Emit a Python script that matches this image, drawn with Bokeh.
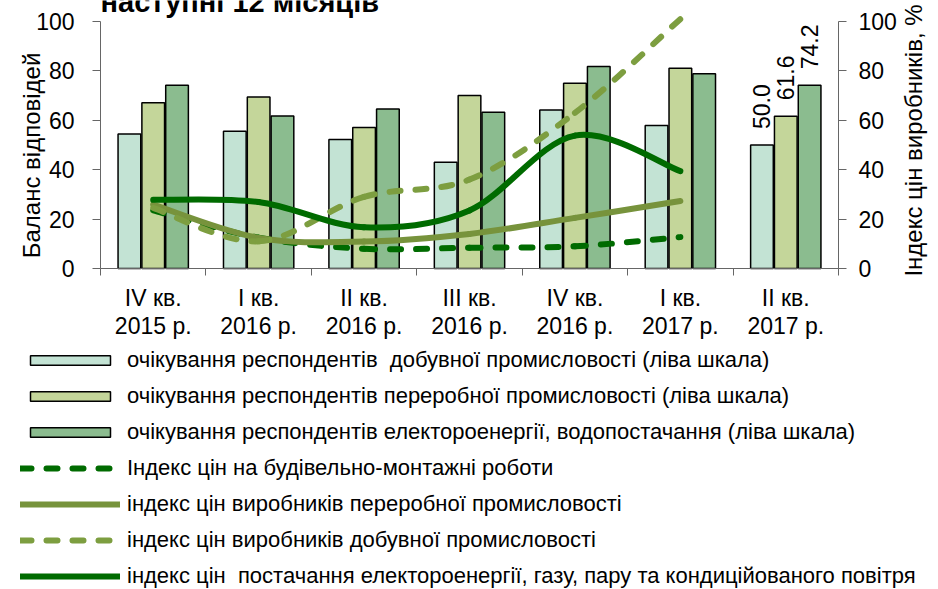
import math
from bokeh.plotting import figure
from bokeh.models import Range1d, LinearAxis, FixedTicker, Legend, LegendItem
from bokeh.embed import file_html
from bokeh.resources import INLINE
from bokeh.core.properties import value

# ---- data ----
categories = ["IV кв.\n2015 р.", "I кв.\n2016 р.", "II кв.\n2016 р.", "III кв.\n2016 р.",
              "IV кв.\n2016 р.", "I кв.\n2017 р.", "II кв.\n2017 р."]
cat_x = [1, 2, 3, 4, 5, 6, 7]

mining_exp = [54.5, 55.6, 52.2, 43.0, 64.2, 57.9, 50.0]
manuf_exp = [67.1, 69.4, 57.1, 70.0, 75.0, 81.1, 61.6]
energy_exp = [74.2, 61.7, 64.6, 63.3, 81.8, 78.8, 74.2]

line_x = [1, 2, 3, 4, 5, 6]
construction_idx = [23.5, 12.5, 8.0, 8.4, 9.0, 12.7]
manuf_idx = [25.9, 12.4, 10.9, 14.0, 20.5, 27.3]
mining_idx = [24.5, 11.0, 29.0, 36.0, 63.0, 101.0]
energy_idx = [27.8, 26.9, 16.7, 23.5, 53.8, 39.4]

left_ticks = [0, 20, 40, 60, 80, 100]
right_ticks = [0, 20, 40, 60, 80, 100]

labels = [
    "очікування респондентів  добувної промисловості (ліва шкала)",
    "очікування респондентів переробної промисловості (ліва шкала)",
    "очікування респондентів електороенергії, водопостачання (ліва шкала)",
    "Індекс цін на будівельно-монтажні роботи",
    "індекс цін виробників переробної промисловості",
    "індекс цін виробників добувної промисловості",
    "індекс цін  постачання електороенергії, газу, пару та кондиційованого повітря",
]
title_text = "наступні 12 місяців"
left_label = "Баланс відповідей"
right_label = "Індекс цін виробників, %"

FONT = "Liberation Sans"
C_BAR1, C_BAR2, C_BAR3 = "#C3E3D4", "#C4D69A", "#8BBC8F"
C_DARK, C_OLIVE, C_OLIVE2 = "#006B00", "#77933C", "#7D9E40"
AX = "#666666"

bar_styles = [dict(fill_color=C_BAR1), dict(fill_color=C_BAR2), dict(fill_color=C_BAR3)]
line_styles = [
    dict(line_color=C_DARK, line_width=6, line_dash="11 15", line_cap="round"),
    dict(line_color=C_OLIVE, line_width=6, line_cap="round"),
    dict(line_color=C_OLIVE2, line_width=6, line_dash="11 15", line_cap="round"),
    dict(line_color=C_DARK, line_width=6, line_cap="round"),
]

# ---- page geometry (pixels) ----
W, H = 938, 589
PL, PR, PT, PB = 100, 838, 21, 268          # plot-area box inside the page
kx = (PR - PL) / 7.0                         # px per category
ky = (PB - PT) / 100.0                       # px per unit
x_start = 0.5 - PL / kx
x_end = 7.5 + (W - PR) / kx
y_end = 100 + PT / ky
y_start = -(H - PB) / ky

def px_x(px):
    return x_start + px / kx

def px_y(py):
    return y_end - py / ky

p = figure(width=W, height=H, output_backend="svg", toolbar_location=None,
           x_range=Range1d(x_start, x_end), y_range=Range1d(y_start, y_end),
           x_axis_type=None, y_axis_type=None,
           min_border_left=0, min_border_right=0, min_border_top=0, min_border_bottom=0)
p.extra_y_ranges = {"right": Range1d(y_start, y_end)}
p.outline_line_color = None
p.grid.visible = False
p.background_fill_color = "white"
p.border_fill_color = "white"

# bars
off, bw = 0.226, 0.215
bar_renderers = []
for xs, vals, st in zip([[c - off for c in cat_x], cat_x, [c + off for c in cat_x]],
                        [mining_exp, manuf_exp, energy_exp], bar_styles):
    bar_renderers.append(p.vbar(x=xs, top=vals, width=bw, line_color="black",
                                line_width=1.5, **st))

# smooth lines (Excel-like smoothing with cubic Bezier segments)
def smooth(xs, ys):
    n = len(xs)
    d = dict(x0=[], y0=[], x1=[], y1=[], cx0=[], cy0=[], cx1=[], cy1=[])
    for i in range(n - 1):
        ip = max(i - 1, 0)
        inn = min(i + 2, n - 1)
        d["x0"].append(xs[i]); d["y0"].append(ys[i])
        d["x1"].append(xs[i + 1]); d["y1"].append(ys[i + 1])
        d["cx0"].append(xs[i] + (xs[i + 1] - xs[ip]) / 6)
        d["cy0"].append(ys[i] + (ys[i + 1] - ys[ip]) / 6)
        d["cx1"].append(xs[i + 1] - (xs[inn] - xs[i]) / 6)
        d["cy1"].append(ys[i + 1] - (ys[inn] - ys[i]) / 6)
    return d

line_renderers = []
for ys, st in zip([construction_idx, manuf_idx, mining_idx, energy_idx], line_styles):
    line_renderers.append(p.bezier(**smooth(line_x, ys), y_range_name="right", **st))

# data labels of the last group
last_vals = [mining_exp[-1], manuf_exp[-1], energy_exp[-1]]
p.text(x=[cat_x[-1] - off, cat_x[-1], cat_x[-1] + off], y=last_vals,
       text=[f"{v:.1f}" for v in last_vals], angle=math.pi / 2,
       text_align="left", text_baseline="middle", y_offset=-16,
       text_font=value(FONT), text_font_size="23px", text_color="black")

# axes drawn at fixed positions
xa = LinearAxis(fixed_location=0, bounds=(0.5, 7.5),
                ticker=FixedTicker(ticks=cat_x,
                                   minor_ticks=[c - 0.5 for c in cat_x] + [cat_x[-1] + 0.5]))
xa.major_label_overrides = {c: lab for c, lab in zip(cat_x, categories)}
xa.major_tick_out = 0
xa.major_tick_in = 0
xa.minor_tick_out = 7
xa.minor_tick_in = 0
xa.major_label_standoff = 9
xa.major_label_text_font = FONT
xa.major_label_text_font_size = "23px"
xa.major_label_text_color = "black"
xa.major_label_text_line_height = 1.1
xa.axis_line_color = AX
xa.minor_tick_line_color = AX
p.add_layout(xa, "below")

ya = LinearAxis(fixed_location=0.5, bounds=(0, 100), ticker=FixedTicker(ticks=left_ticks))
ya.major_tick_out = 8
ya.major_tick_in = 0
ya.minor_tick_out = 0
ya.minor_tick_in = 0
ya.major_label_standoff = 18
ya.major_label_text_font = FONT
ya.major_label_text_font_size = "23px"
ya.major_label_text_color = "black"
ya.axis_line_color = AX
ya.major_tick_line_color = AX
p.add_layout(ya, "left")

ra = LinearAxis(fixed_location=7.5, bounds=(0, 100), y_range_name="right",
                ticker=FixedTicker(ticks=right_ticks))
ra.major_tick_out = 8
ra.major_tick_in = 0
ra.minor_tick_out = 0
ra.minor_tick_in = 0
ra.major_label_standoff = 12
ra.major_label_text_font = FONT
ra.major_label_text_font_size = "23px"
ra.major_label_text_color = "black"
ra.axis_line_color = AX
ra.major_tick_line_color = AX
p.add_layout(ra, "right")

# axis titles (both read bottom-to-top, as in the reference)
p.text(x=[px_x(31), px_x(913)], y=[px_y(155), px_y(140)], text=[left_label, right_label],
       angle=math.pi / 2, text_align="center", text_baseline="middle",
       text_font=value(FONT), text_font_size="24px", text_color="black")

# partly cut-off chart title at the very top
p.text(x=[0.5], y=[px_y(1)], text=[title_text], text_align="left",
       text_baseline="middle", text_font=value(FONT), text_font_size="29px",
       text_font_style="bold", text_color="black")

legend = Legend(items=[LegendItem(label=l, renderers=[r]) for l, r in
                       zip(labels, bar_renderers + line_renderers)],
                location=(20, 0), orientation="vertical", padding=0, margin=0,
                spacing=10, glyph_width=100, glyph_height=12, label_height=24,
                label_standoff=7, border_line_color=None, background_fill_alpha=0,
                label_text_font=FONT, label_text_font_size="22px", label_text_color="black")
p.add_layout(legend)

open("out.html", "w").write(file_html(p, INLINE))
